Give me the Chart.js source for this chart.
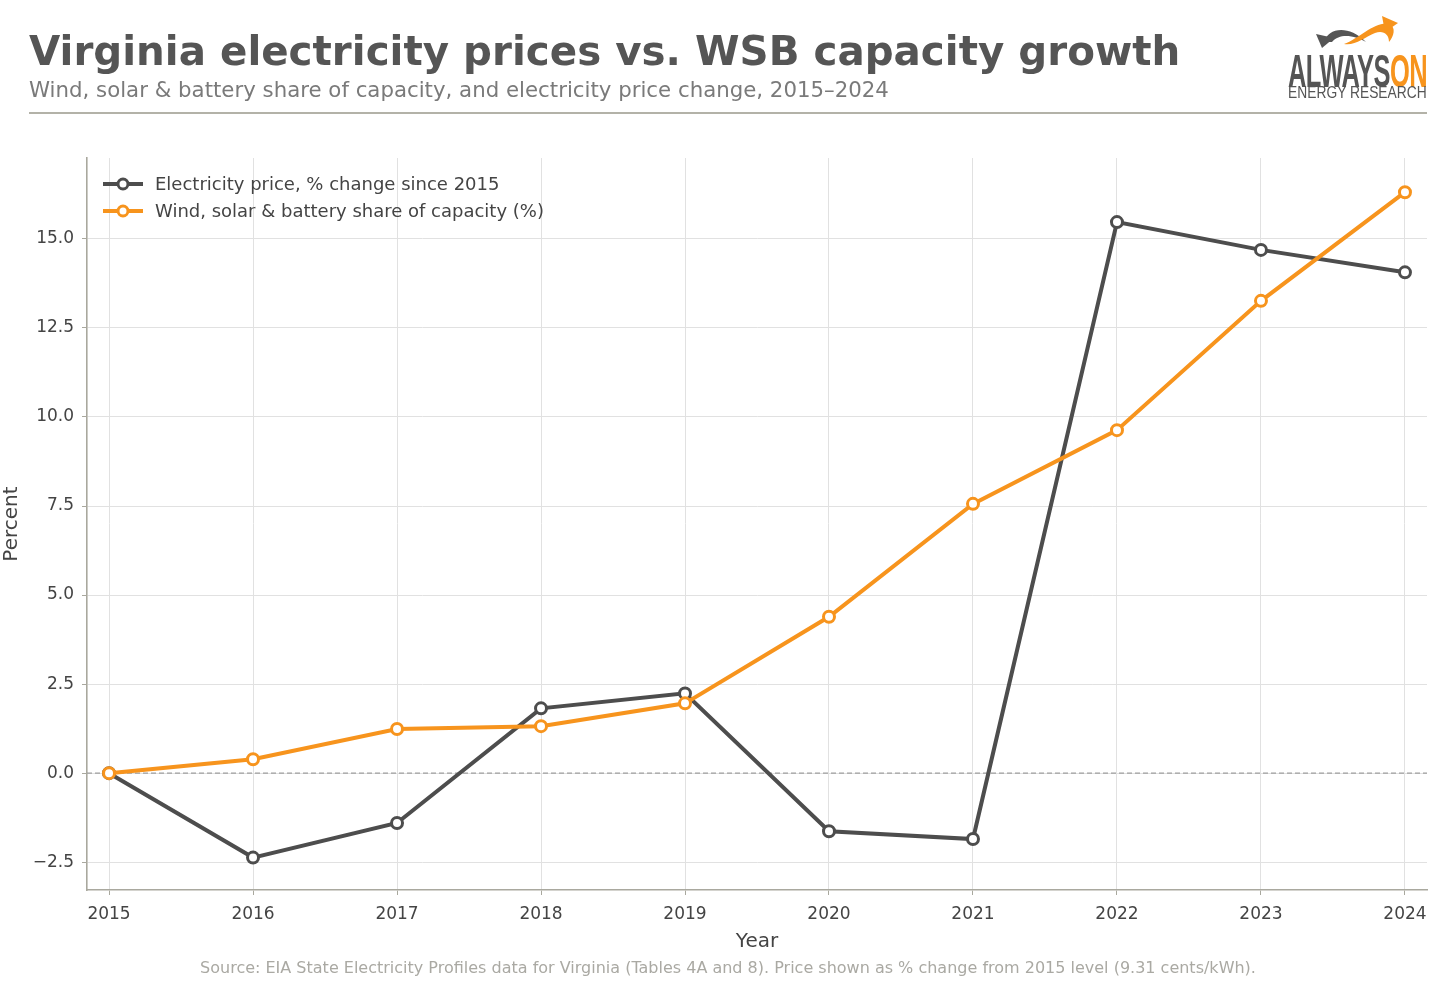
<!DOCTYPE html>
<html>
<head>
<meta charset="utf-8">
<script src="https://cdn.jsdelivr.net/npm/chart.js@4.4.1/dist/chart.umd.min.js"></script>
<style>
  html, body { margin: 0; padding: 0; background: #fff; }
  body { width: 1456px; height: 990px; position: relative; overflow: hidden; font-family: "DejaVu Sans", sans-serif; }
  #wrap { position: absolute; left: 0; top: 0; width: 1456px; height: 990px; }
  .title { position: absolute; left: 29px; top: 27px; font-size: 40.4px; font-weight: bold; color: #555; white-space: nowrap; }
  .subtitle { position: absolute; left: 29px; top: 77px; font-size: 21.3px; color: #7a7a7a; white-space: nowrap; }
  .rule { position: absolute; left: 29px; top: 112px; width: 1398px; height: 2px; background: #b3b2a8; }
  .source { position: absolute; left: 0; width: 1456px; top: 958px; text-align: center; font-size: 16px; color: #aaa9a3; white-space: nowrap; }
  .logo { position: absolute; left: 1288px; top: 14px; width: 140px; height: 88px; }
  .logo .brand, .logo .sub { position: absolute; left: 0; font-family: "Liberation Sans Narrow", "Liberation Sans", sans-serif; transform-origin: left top; white-space: nowrap; line-height: 1; }
  .logo .brand { top: 34px; font-weight: bold; font-size: 46px; letter-spacing: -1px; }
  .logo .sub { top: 70px; font-size: 17px; color: #555; }
</style>
</head>
<body>
<div id="wrap"><canvas id="chart"></canvas></div>
<div class="title">Virginia electricity prices vs. WSB capacity growth</div>
<div class="subtitle">Wind, solar &amp; battery share of capacity, and electricity price change, 2015–2024</div>
<div class="rule"></div>
<div class="logo">
  <svg width="140" height="36" viewBox="0 0 140 36" style="position:absolute;left:0;top:0">
    <path d="M36 28 C 40 14, 60 10, 78 28 C 68 22, 52 18, 44 28 Z" fill="#555"/>
    <path d="M28 20 L 46 24 L 34 34 Z" fill="#555"/>
    <path d="M56 30 C 72 24, 88 6, 102 10 C 108 14, 106 22, 101 28 C 101 20, 95 16, 87 19 C 77 23, 67 32, 56 30 Z" fill="#f7941d"/>
    <path d="M94 2 L 110 9 L 97 18 Z" fill="#f7941d"/>
  </svg>
  <div class="brand" id="brand"><span style="color:#555">ALWAYS</span><span style="color:#f7941d">ON</span></div>
  <div class="sub" id="brandSub">ENERGY RESEARCH</div>
</div>
<div class="source">Source: EIA State Electricity Profiles data for Virginia (Tables 4A and 8). Price shown as % change from 2015 level (9.31 cents/kWh).</div>

<script>
  'use strict';

  const years = [2015, 2016, 2017, 2018, 2019, 2020, 2021, 2022, 2023, 2024];
  const priceChange = [0, -2.37, -1.40, 1.82, 2.24, -1.63, -1.85, 15.47, 14.69, 14.06];
  const wsbShare = [0, 0.39, 1.24, 1.32, 1.96, 4.39, 7.56, 9.63, 13.26, 16.31];
  const seriesLabels = ['Electricity price, % change since 2015', 'Wind, solar & battery share of capacity (%)'];
  const seriesColors = ['#4d4d4d', '#f7941d'];

  const toPoints = vals => years.map((yr, i) => ({ x: yr, y: vals[i] }));
  const fmtY = v => (v < 0 ? '\u2212' : '') + Math.abs(v).toFixed(1);

  // squeeze the logo words to the logo width
  ['brand', 'brandSub'].forEach(id => {
    const el = document.getElementById(id);
    el.style.transform = 'scaleX(' + (139 / el.offsetWidth) + ')';
  });

  // dashed zero line
  const zeroLine = {
    id: 'zeroLine',
    beforeDatasetsDraw(chart) {
      const { ctx, chartArea, scales } = chart;
      const y = scales.y.getPixelForValue(0);
      ctx.save();
      ctx.strokeStyle = '#9e9e9e';
      ctx.lineWidth = 1.3;
      ctx.setLineDash([5, 3]);
      ctx.beginPath();
      ctx.moveTo(chartArea.left, y);
      ctx.lineTo(chartArea.right, y);
      ctx.stroke();
      ctx.restore();
    }
  };

  // legend inside the plot, top left
  const innerLegend = {
    id: 'innerLegend',
    afterDraw(chart) {
      const { ctx, chartArea } = chart;
      ctx.save();
      ctx.font = '18px "DejaVu Sans"';
      ctx.textBaseline = 'middle';
      seriesLabels.forEach((label, i) => {
        const x0 = chartArea.left + 16;
        const y = chartArea.top + 26 + i * 27;
        ctx.strokeStyle = seriesColors[i];
        ctx.lineWidth = 4;
        ctx.beginPath();
        ctx.moveTo(x0, y);
        ctx.lineTo(x0 + 40, y);
        ctx.stroke();
        ctx.beginPath();
        ctx.arc(x0 + 20, y, 5, 0, Math.PI * 2);
        ctx.fillStyle = '#fff';
        ctx.fill();
        ctx.lineWidth = 3;
        ctx.stroke();
        ctx.fillStyle = '#444';
        ctx.fillText(label, x0 + 52, y + 1);
      });
      ctx.restore();
    }
  };

  const lineStyle = color => ({
    borderColor: color,
    backgroundColor: '#fff',
    borderWidth: 4,
    pointRadius: 5.5,
    pointBorderWidth: 3,
    pointBackgroundColor: '#fff',
    pointBorderColor: color,
    tension: 0,
    fill: false
  });

  new Chart(document.getElementById('chart'), {
    type: 'line',
    data: {
      datasets: [
        Object.assign({ label: seriesLabels[0], data: toPoints(priceChange), order: 2 }, lineStyle(seriesColors[0])),
        Object.assign({ label: seriesLabels[1], data: toPoints(wsbShare), order: 1 }, lineStyle(seriesColors[1]))
      ]
    },
    options: {
      responsive: true,
      maintainAspectRatio: false,
      animation: false,
      layout: { padding: { top: 158, right: 29, bottom: 36, left: 0 } },
      plugins: {
        legend: { display: false },
        tooltip: { enabled: false }
      },
      scales: {
        x: {
          type: 'linear',
          min: 2014.847,
          max: 2024.153,
          afterFit: s => { s.height = 64; },
          grid: { color: '#e1e1e1', lineWidth: 1, tickColor: '#a9a89e', tickLength: 5 },
          border: { display: true, color: '#a9a89e', width: 1.6 },
          ticks: {
            stepSize: 1,
            includeBounds: false,
            autoSkip: false,
            maxRotation: 0,
            padding: 9,
            color: '#444',
            font: { family: 'DejaVu Sans', size: 17 },
            callback: v => String(v)
          },
          title: { display: true, text: 'Year', color: '#444', font: { family: 'DejaVu Sans', size: 20 }, padding: 0 }
        },
        y: {
          min: -3.28,
          max: 17.27,
          afterFit: s => { s.width = 87; },
          grid: { color: '#e1e1e1', lineWidth: 1, tickColor: '#a9a89e', tickLength: 5 },
          border: { display: true, color: '#a9a89e', width: 1.6 },
          ticks: {
            stepSize: 2.5,
            includeBounds: false,
            padding: 8,
            color: '#444',
            font: { family: 'DejaVu Sans', size: 17 },
            callback: v => fmtY(v)
          },
          title: { display: true, text: 'Percent', color: '#444', font: { family: 'DejaVu Sans', size: 20 }, padding: 0 }
        }
      }
    },
    plugins: [zeroLine, innerLegend]
  });
</script>
</body>
</html>
